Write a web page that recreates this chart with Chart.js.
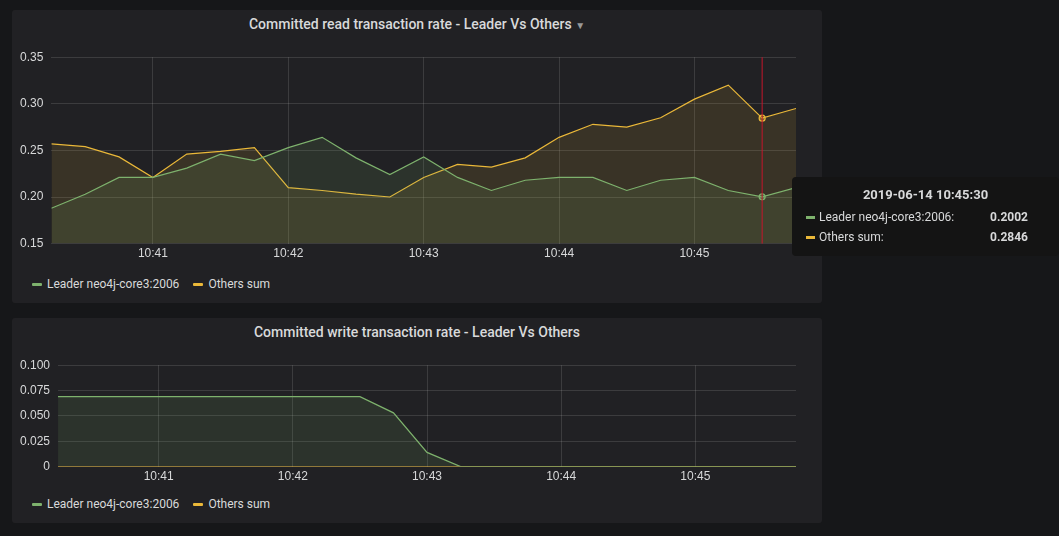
<!DOCTYPE html>
<html><head><meta charset="utf-8">
<script src="https://cdn.jsdelivr.net/npm/chart.js@4"></script>
<style>
body{margin:0;background:#161719;width:1059px;height:536px;overflow:hidden;font-family:Roboto,"Open Sans",sans-serif;color:#d8d9da}
.panel{position:absolute;left:12px;width:810px;background:#212124;border-radius:3px}
.title{position:absolute;top:6px;left:0;width:100%;text-align:center;font-size:14px;font-weight:500;color:#d8d9da}
.leg{position:absolute;left:20px;font-size:12px;color:#d8d9da}
.leg span{display:inline-block;margin-right:14px}
.leg i{display:inline-block;width:10px;height:3px;vertical-align:middle;margin-right:5px;border-radius:1px}
.cv{position:absolute;left:0}
#tip{position:absolute;left:792px;top:177px;width:267px;height:79px;background:#141414;border-radius:4px;font-size:12px}
</style></head><body>
<div class="panel" style="top:10px;height:293px">
  <div class="title">Committed read transaction rate - Leader Vs Others <span style="color:#999;font-size:10px">&#9660;</span></div>
  <div class="cv" style="top:32px;width:810px;height:222px"><canvas id="c1"></canvas></div>
  <div class="leg" style="top:267px"><span><i style="background:#7eb26d"></i>Leader neo4j-core3:2006</span><span><i style="background:#eab839"></i>Others sum</span></div>
</div>
<div class="panel" style="top:318px;height:205px">
  <div class="title">Committed write transaction rate - Leader Vs Others</div>
  <div class="cv" style="top:32px;width:810px;height:137px"><canvas id="c2"></canvas></div>
  <div class="leg" style="top:179px"><span><i style="background:#7eb26d"></i>Leader neo4j-core3:2006</span><span><i style="background:#eab839"></i>Others sum</span></div>
</div>
<div id="tip">
  <div style="position:absolute;top:10px;width:100%;text-align:center;font-weight:bold;font-size:13px">2019-06-14 10:45:30</div>
  <div style="position:absolute;top:33px;left:14px"><i style="display:inline-block;width:9px;height:3px;background:#7eb26d;vertical-align:middle;margin-right:4px"></i>Leader neo4j-core3:2006:</div>
  <div style="position:absolute;top:33px;right:31px;font-weight:bold">0.2002</div>
  <div style="position:absolute;top:53px;left:14px"><i style="display:inline-block;width:9px;height:3px;background:#eab839;vertical-align:middle;margin-right:4px"></i>Others sum:</div>
  <div style="position:absolute;top:53px;right:31px;font-weight:bold">0.2846</div>
</div>
<script>
// seconds since 10:40:00
const times = [15,30,45,60,75,90,105,120,135,150,165,180,195,210,225,240,255,270,285,300,315,330,345];
const readLeader = [0.188,0.203,0.221,0.221,0.231,0.246,0.239,0.253,0.264,0.242,0.224,0.243,0.221,0.207,0.218,0.221,0.221,0.207,0.218,0.221,0.207,0.2002,0.210];
const readOthers = [0.257,0.254,0.243,0.221,0.246,0.249,0.253,0.210,0.207,0.203,0.200,0.221,0.235,0.232,0.242,0.264,0.278,0.275,0.285,0.305,0.320,0.2846,0.295];
const writeLeader = [0.069,0.069,0.069,0.069,0.069,0.069,0.069,0.069,0.069,0.069,0.053,0.014,0,0,0,0,0,0,0,0,0,0,0];
const writeOthers = [0,0,0,0,0,0,0,0,0,0,0,0,0,0,0,0,0,0,0,0,0,0,0];
const hoverT = 330;

const pts = a => a.map((v,i)=>({x:times[i],y:v}));
const grid = 'rgba(255,255,255,0.12)';
function fmt(v){const m=40+Math.floor(v/60);return '10:'+m;}
const cursor={id:'cursor',afterDatasetsDraw(c,a,o){if(!o.on)return;const x=c.scales.x.getPixelForValue(hoverT);const ctx=c.ctx;ctx.save();ctx.strokeStyle='#c4162a';ctx.lineWidth=1;ctx.beginPath();ctx.moveTo(x,c.chartArea.top);ctx.lineTo(x,c.chartArea.bottom);ctx.stroke();ctx.restore();}};
function mk(id,l,o,ymin,ymax,step,dec,showCursor,padL){
  const pr = times.map(t=>showCursor&&t===hoverT?3:0);
  new Chart(document.getElementById(id),{type:'line',
    data:{datasets:[
      {label:'Leader neo4j-core3:2006',data:pts(l),borderColor:'#7eb26d',backgroundColor:'rgba(126,178,109,0.12)',fill:'start',borderWidth:1.2,pointRadius:pr,pointBackgroundColor:'rgba(126,178,109,0.4)',pointBorderColor:'#7eb26d',tension:0},
      {label:'Others sum',data:pts(o),borderColor:'#eab839',backgroundColor:'rgba(234,184,57,0.12)',fill:'start',borderWidth:1.2,pointRadius:pr,pointBackgroundColor:'rgba(234,184,57,0.4)',pointBorderColor:'#eab839',tension:0}
    ]},
    options:{responsive:true,maintainAspectRatio:false,animation:false,
      layout:{padding:{left:padL,right:26,top:0,bottom:0}},
      plugins:{legend:{display:false},tooltip:{enabled:false},cursor:{on:showCursor}},
      scales:{
        x:{type:'linear',min:15,max:345,afterBuildTicks(ax){ax.ticks=[60,120,180,240,300].map(v=>({value:v}));},
          ticks:{color:'#d8d9da',font:{size:12},callback:v=>fmt(v),maxRotation:0},
          grid:{color:grid,drawTicks:false},border:{display:false}},
        y:{min:ymin,max:ymax,ticks:{stepSize:step,color:'#d8d9da',font:{size:12},padding:8,callback:v=>v===0?'0':v.toFixed(dec)},
          grid:{color:grid,drawTicks:false},border:{display:false}}
      }},
    plugins:[cursor]});
}
mk('c1',readLeader,readOthers,0.15,0.35,0.05,2,true,0);
mk('c2',writeLeader,writeOthers,0,0.1,0.025,3,false,0);
</script>
</body></html>
